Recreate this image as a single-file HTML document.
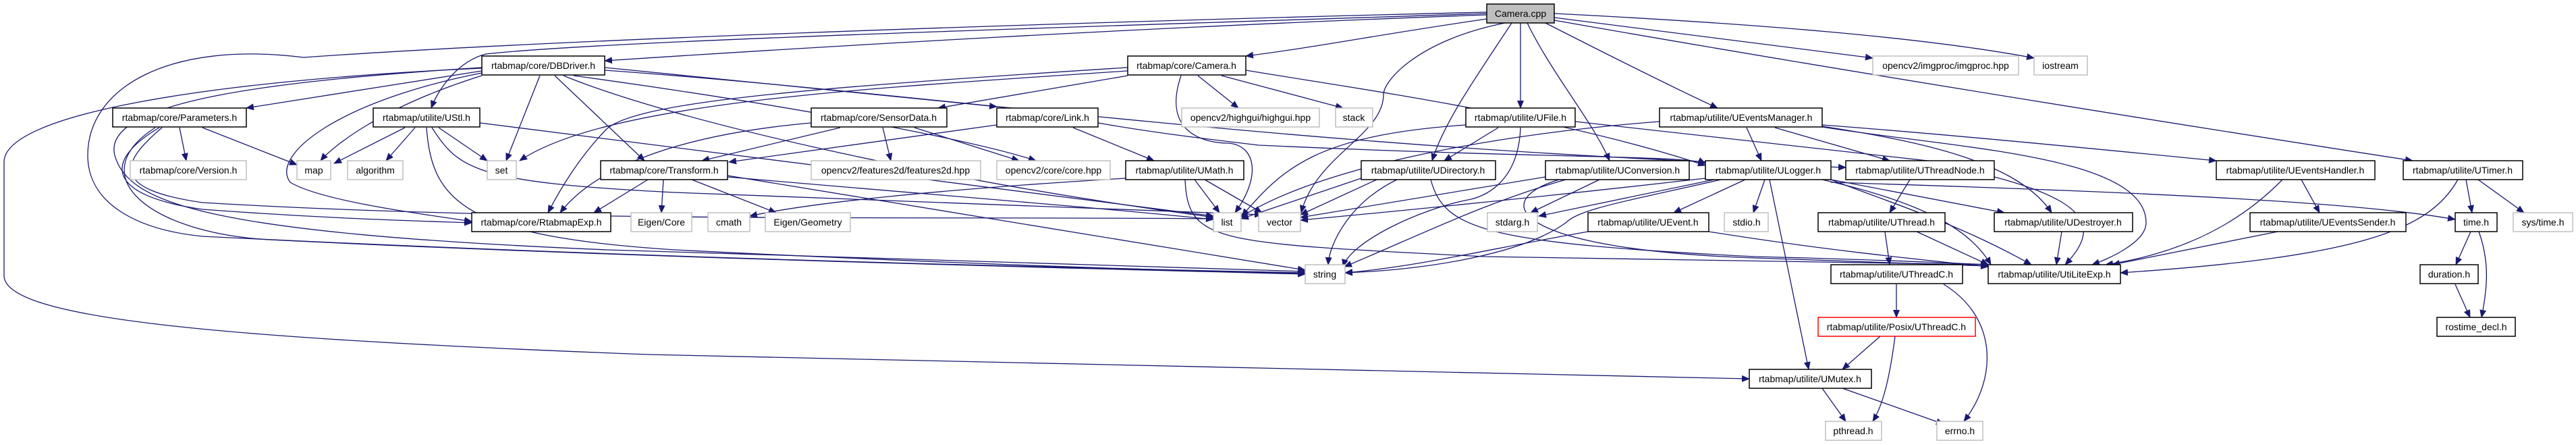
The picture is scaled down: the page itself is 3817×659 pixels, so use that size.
<!DOCTYPE html>
<html><head><meta charset="utf-8"><style>
html,body{margin:0;padding:0;background:#fff;width:3817px;height:659px;overflow:hidden}
svg{display:block}
text{font-family:"Liberation Sans",sans-serif;font-size:14px;fill:#000}
.e{fill:none;stroke:#191970;stroke-width:1.3;marker-end:url(#a)}
.n rect{fill:#fff;stroke:#000;stroke-width:1.5}
.g rect{fill:#fff;stroke:#bfbfbf;stroke-width:1.5}
</style></head><body>
<svg width="3817" height="659" viewBox="0 0 3817 659" xmlns="http://www.w3.org/2000/svg">
<defs><marker id="a" markerUnits="userSpaceOnUse" markerWidth="12" markerHeight="10" refX="11" refY="5" orient="auto"><path d="M0,0 L12,5 L0,10 z" fill="#191970"/></marker></defs>
<g>
<!-- Camera.cpp edges -->
<path class="e" d="M2203,22 C1700,40 1200,70 896,90"/>
<path class="e" d="M2203,28 C2050,50 1950,70 1846,83"/>
<path class="e" d="M2203,20 C1600,40 900,60 720,80 C680,90 650,130 639,160"/>
<path class="e" d="M2203,18 C1500,35 800,60 450,85 C250,60 130,130 130,230 C130,300 200,340 300,350 C900,380 1500,395 1934,404"/>
<path class="e" d="M2240,34 C2190,110 2140,180 2122,238"/>
<path class="e" d="M2253,34 L2253,160"/>
<path class="e" d="M2263,34 C2300,110 2360,180 2385,238"/>
<path class="e" d="M2290,34 C2400,90 2480,130 2545,160"/>
<path class="e" d="M2303,26 C2500,50 2650,70 2775,86"/>
<path class="e" d="M2303,20 C2600,35 2850,55 3014,86"/>
<path class="e" d="M2303,30 C2700,100 3200,180 3575,238"/>
<path class="e" d="M2230,34 C2100,60 2050,120 2050,140 C2050,200 1950,230 1928,315"/>
<!-- DBDriver -->
<path class="e" d="M714,101 C300,120 6,170 6,240 L6,408 C6,470 300,500 960,525 L2592,561"/>
<path class="e" d="M714,105 L365,160"/>
<path class="e" d="M714,112 C560,160 490,220 475,238"/>
<path class="e" d="M800,112 L750,238"/>
<path class="e" d="M822,112 L955,238"/>
<path class="e" d="M714,108 C500,150 400,230 430,270 C480,300 650,320 699,328"/>
<path class="e" d="M714,100 C400,120 150,150 170,230 C190,300 300,345 900,370 L1934,402"/>
<path class="e" d="M835,112 C1000,180 1400,270 1800,322"/>
<path class="e" d="M850,112 C1200,160 1450,210 1535,238"/>
<path class="e" d="M896,100 C1100,120 1300,140 1477,158"/>
<path class="e" d="M896,104 C1400,140 1900,220 2735,248"/>
<!-- Parameters -->
<path class="e" d="M266,189 L276,238"/>
<path class="e" d="M300,189 L440,244"/>
<path class="e" d="M236,189 C150,240 160,290 300,310 C500,325 650,328 699,330"/>
<path class="e" d="M230,189 C120,260 220,345 400,355 C900,380 1500,395 1934,406"/>
<path class="e" d="M240,189 C180,240 160,280 300,300 C800,330 1400,320 1798,324"/>
<!-- UStl -->
<path class="e" d="M600,189 L495,242"/>
<path class="e" d="M615,189 L572,238"/>
<path class="e" d="M650,189 L722,238"/>
<path class="e" d="M711,182 C1000,220 1500,280 1798,320"/>
<path class="e" d="M632,189 C640,300 690,350 1000,370 C1400,390 1700,400 1934,405"/>
<path class="e" d="M640,189 C680,250 700,270 1000,285 C1400,300 1700,310 1870,318"/>
<!-- SensorData -->
<path class="e" d="M1245,189 L1040,238"/>
<path class="e" d="M1308,189 L1320,238"/>
<path class="e" d="M1355,189 L1510,238"/>
<path class="e" d="M1202,182 C1000,200 880,250 830,315"/>
<!-- Link -->
<path class="e" d="M1477,185 L1080,240"/>
<path class="e" d="M1590,189 L1710,238"/>
<path class="e" d="M1627,182 C1700,195 1780,205 1865,215 C2300,235 2500,230 2527,242"/>
<!-- Camera.h -->
<path class="e" d="M1671,112 L1390,160"/>
<path class="e" d="M1775,112 L1835,160"/>
<path class="e" d="M1810,112 L1990,160"/>
<path class="e" d="M1750,112 C1720,200 1790,212 1820,212 C1860,215 1870,260 1830,315"/>
<path class="e" d="M1671,100 C1200,130 950,150 900,190 C860,230 830,280 812,315"/>
<path class="e" d="M1671,105 C1300,130 900,150 770,238"/>
<path class="e" d="M1846,104 C2000,130 2300,170 2527,245"/>
<!-- Transform -->
<path class="e" d="M960,266 L880,315"/>
<path class="e" d="M983,266 L980,315"/>
<path class="e" d="M1025,266 L1150,315"/>
<path class="e" d="M1078,262 C1400,290 1600,305 1798,325"/>
<path class="e" d="M1078,260 C1500,330 1800,380 1934,400"/>
<!-- UMath -->
<path class="e" d="M1770,266 L1807,315"/>
<path class="e" d="M1785,266 L1870,315"/>
<path class="e" d="M1668,264 C1400,280 1200,300 1111,320"/>
<path class="e" d="M1756,266 C1760,360 1800,360 2200,380 C2600,385 2800,390 2946,392"/>
<!-- UFile -->
<path class="e" d="M2220,189 L2140,238"/>
<path class="e" d="M2253,189 C2250,270 2200,290 2180,295 C2100,310 2000,360 1990,395"/>
<path class="e" d="M2334,180 C2600,210 2800,230 2946,248"/>
<path class="e" d="M2172,185 C1950,200 1900,250 1840,320"/>
<!-- UEventsManager -->
<path class="e" d="M2588,189 L2610,238"/>
<path class="e" d="M2630,189 L2800,238"/>
<path class="e" d="M2700,185 C2900,200 3150,225 3284,238"/>
<path class="e" d="M2700,187 C2850,210 2990,240 3040,315"/>
<path class="e" d="M2700,188 C2900,220 3180,230 3180,330 C3180,360 3120,385 3100,392"/>
<path class="e" d="M2459,180 C2200,200 1950,250 1838,322"/>
<!-- UDirectory -->
<path class="e" d="M2070,266 C2000,300 1970,360 1968,392"/>
<path class="e" d="M2040,266 L1927,318"/>
<path class="e" d="M2017,264 L1839,324"/>
<path class="e" d="M2120,266 C2140,340 2200,360 2600,380 C2800,385 2900,390 2946,392"/>
<!-- UConversion -->
<path class="e" d="M2370,266 L2268,315"/>
<path class="e" d="M2320,266 C2200,300 2100,350 1992,395"/>
<path class="e" d="M2290,262 L1927,322"/>
<path class="e" d="M2310,266 C2200,300 2250,370 2600,382 C2800,388 2900,392 2946,394"/>
<!-- ULogger -->
<path class="e" d="M2586,266 L2480,315"/>
<path class="e" d="M2615,266 L2598,315"/>
<path class="e" d="M2622,266 L2680,547"/>
<path class="e" d="M2540,266 L2280,320"/>
<path class="e" d="M2550,266 C2400,300 2340,310 2320,330 C2250,380 2100,400 1993,404"/>
<path class="e" d="M2527,264 C2300,290 2100,310 1927,326"/>
<path class="e" d="M2713,266 L2970,315"/>
<path class="e" d="M2713,266 C2800,300 2900,330 3010,392"/>
<path class="e" d="M2713,270 C3200,285 3500,300 3638,325"/>
<path class="e" d="M2700,266 C2850,300 2920,340 2950,392"/>
<!-- UThreadNode -->
<path class="e" d="M2830,266 L2800,315"/>
<path class="e" d="M2955,262 C3100,300 3110,340 3060,392"/>
<!-- UEvent -->
<path class="e" d="M2353,343 C2200,370 2100,395 1993,404"/>
<path class="e" d="M2532,343 C2700,370 2850,385 2946,395"/>
<!-- UThread -->
<path class="e" d="M2793,343 L2800,392"/>
<path class="e" d="M2840,343 L2946,392"/>
<!-- UThreadC / Posix / UMutex -->
<path class="e" d="M2810,421 L2810,470"/>
<path class="e" d="M2880,421 C2960,470 2960,560 2910,624"/>
<path class="e" d="M2786,498 L2730,547"/>
<path class="e" d="M2808,498 C2800,560 2790,600 2775,624"/>
<path class="e" d="M2700,575 L2735,624"/>
<path class="e" d="M2730,575 L2880,628"/>
<!-- right side -->
<path class="e" d="M3410,266 L3437,315"/>
<path class="e" d="M3382,266 C3300,350 3200,380 3120,392"/>
<path class="e" d="M3375,343 L3130,392"/>
<path class="e" d="M3055,343 L3047,392"/>
<path class="e" d="M3654,266 L3663,315"/>
<path class="e" d="M3672,266 L3740,315"/>
<path class="e" d="M3642,266 C3600,340 3500,380 3142,404"/>
<path class="e" d="M3661,343 L3639,392"/>
<path class="e" d="M3673,343 C3690,390 3685,430 3677,470"/>
<path class="e" d="M3638,421 L3660,470"/>
</g>
<!-- nodes -->
<g>
<g><rect x="2203" y="6" width="100" height="28" fill="#bfbfbf" stroke="#000" stroke-width="1.5"/><text x="2253" y="25" text-anchor="middle">Camera.cpp</text></g>

<g class="g"><rect x="2775" y="83" width="216" height="28"/><text x="2883" y="102" text-anchor="middle">opencv2/imgproc/imgproc.hpp</text></g>
<g class="g"><rect x="3014" y="83" width="79" height="28"/><text x="3053" y="102" text-anchor="middle">iostream</text></g>
<g class="n"><rect x="714" y="83" width="182" height="28"/><text x="805" y="102" text-anchor="middle">rtabmap/core/DBDriver.h</text></g>
<g class="n"><rect x="1671" y="83" width="175" height="28"/><text x="1758" y="102" text-anchor="middle">rtabmap/core/Camera.h</text></g>

<g class="n"><rect x="167" y="160" width="198" height="28"/><text x="266" y="179" text-anchor="middle">rtabmap/core/Parameters.h</text></g>
<g class="n"><rect x="553" y="160" width="158" height="28"/><text x="632" y="179" text-anchor="middle">rtabmap/utilite/UStl.h</text></g>
<g class="n"><rect x="1202" y="160" width="201" height="28"/><text x="1302" y="179" text-anchor="middle">rtabmap/core/SensorData.h</text></g>
<g class="n"><rect x="1477" y="160" width="150" height="28"/><text x="1552" y="179" text-anchor="middle">rtabmap/core/Link.h</text></g>
<g class="g"><rect x="1751" y="160" width="204" height="28"/><text x="1853" y="179" text-anchor="middle">opencv2/highgui/highgui.hpp</text></g>
<g class="g"><rect x="1979" y="160" width="55" height="28"/><text x="2006" y="179" text-anchor="middle">stack</text></g>
<g class="n"><rect x="2172" y="160" width="162" height="28"/><text x="2253" y="179" text-anchor="middle">rtabmap/utilite/UFile.h</text></g>
<g class="n"><rect x="2459" y="160" width="241" height="28"/><text x="2580" y="179" text-anchor="middle">rtabmap/utilite/UEventsManager.h</text></g>

<g class="g"><rect x="193" y="238" width="172" height="28"/><text x="279" y="257" text-anchor="middle">rtabmap/core/Version.h</text></g>
<g class="g"><rect x="440" y="238" width="50" height="28"/><text x="465" y="257" text-anchor="middle">map</text></g>
<g class="g"><rect x="515" y="238" width="82" height="28"/><text x="556" y="257" text-anchor="middle">algorithm</text></g>
<g class="g"><rect x="722" y="238" width="43" height="28"/><text x="743" y="257" text-anchor="middle">set</text></g>
<g class="n"><rect x="890" y="238" width="188" height="28"/><text x="984" y="257" text-anchor="middle">rtabmap/core/Transform.h</text></g>
<g class="g"><rect x="1202" y="238" width="251" height="28"/><text x="1327" y="257" text-anchor="middle">opencv2/features2d/features2d.hpp</text></g>
<g class="g"><rect x="1477" y="238" width="168" height="28"/><text x="1561" y="257" text-anchor="middle">opencv2/core/core.hpp</text></g>
<g class="n"><rect x="1668" y="238" width="175" height="28"/><text x="1755" y="257" text-anchor="middle">rtabmap/utilite/UMath.h</text></g>
<g class="n"><rect x="2017" y="238" width="199" height="28"/><text x="2116" y="257" text-anchor="middle">rtabmap/utilite/UDirectory.h</text></g>
<g class="n"><rect x="2290" y="238" width="213" height="28"/><text x="2397" y="257" text-anchor="middle">rtabmap/utilite/UConversion.h</text></g>
<g class="n"><rect x="2527" y="238" width="186" height="28"/><text x="2620" y="257" text-anchor="middle">rtabmap/utilite/ULogger.h</text></g>
<g class="n"><rect x="2735" y="238" width="220" height="28"/><text x="2845" y="257" text-anchor="middle">rtabmap/utilite/UThreadNode.h</text></g>
<g class="n"><rect x="3284" y="238" width="235" height="28"/><text x="3401" y="257" text-anchor="middle">rtabmap/utilite/UEventsHandler.h</text></g>
<g class="n"><rect x="3561" y="238" width="177" height="28"/><text x="3649" y="257" text-anchor="middle">rtabmap/utilite/UTimer.h</text></g>

<g class="n"><rect x="699" y="315" width="206" height="28"/><text x="802" y="334" text-anchor="middle">rtabmap/core/RtabmapExp.h</text></g>
<g class="g"><rect x="935" y="315" width="90" height="28"/><text x="980" y="334" text-anchor="middle">Eigen/Core</text></g>
<g class="g"><rect x="1049" y="315" width="62" height="28"/><text x="1080" y="334" text-anchor="middle">cmath</text></g>
<g class="g"><rect x="1134" y="315" width="126" height="28"/><text x="1197" y="334" text-anchor="middle">Eigen/Geometry</text></g>
<g class="g"><rect x="1798" y="315" width="41" height="28"/><text x="1818" y="334" text-anchor="middle">list</text></g>
<g class="g"><rect x="1865" y="315" width="62" height="28"/><text x="1896" y="334" text-anchor="middle">vector</text></g>
<g class="g"><rect x="2204" y="315" width="74" height="28"/><text x="2241" y="334" text-anchor="middle">stdarg.h</text></g>
<g class="n"><rect x="2353" y="315" width="179" height="28"/><text x="2442" y="334" text-anchor="middle">rtabmap/utilite/UEvent.h</text></g>
<g class="g"><rect x="2555" y="315" width="65" height="28"/><text x="2588" y="334" text-anchor="middle">stdio.h</text></g>
<g class="n"><rect x="2694" y="315" width="188" height="28"/><text x="2788" y="334" text-anchor="middle">rtabmap/utilite/UThread.h</text></g>
<g class="n"><rect x="2955" y="315" width="205" height="28"/><text x="3057" y="334" text-anchor="middle">rtabmap/utilite/UDestroyer.h</text></g>
<g class="n"><rect x="3334" y="315" width="231" height="28"/><text x="3449" y="334" text-anchor="middle">rtabmap/utilite/UEventsSender.h</text></g>
<g class="n"><rect x="3638" y="315" width="62" height="28"/><text x="3669" y="334" text-anchor="middle">time.h</text></g>
<g class="g"><rect x="3724" y="315" width="88" height="28"/><text x="3768" y="334" text-anchor="middle">sys/time.h</text></g>

<g class="g"><rect x="1934" y="392" width="59" height="28"/><text x="1963" y="411" text-anchor="middle">string</text></g>
<g class="n"><rect x="2713" y="392" width="195" height="28"/><text x="2810" y="411" text-anchor="middle">rtabmap/utilite/UThreadC.h</text></g>
<g class="n"><rect x="2946" y="392" width="196" height="28"/><text x="3044" y="411" text-anchor="middle">rtabmap/utilite/UtiLiteExp.h</text></g>
<g class="n"><rect x="3586" y="392" width="86" height="28"/><text x="3629" y="411" text-anchor="middle">duration.h</text></g>

<g><rect x="2694" y="470" width="233" height="28" fill="#fff" stroke="#ff0000" stroke-width="1.5"/><text x="2810" y="489" text-anchor="middle">rtabmap/utilite/Posix/UThreadC.h</text></g>
<g class="n"><rect x="3611" y="470" width="116" height="28"/><text x="3669" y="489" text-anchor="middle">rostime_decl.h</text></g>

<g class="n"><rect x="2592" y="547" width="181" height="28"/><text x="2682" y="566" text-anchor="middle">rtabmap/utilite/UMutex.h</text></g>

<g class="g"><rect x="2705" y="624" width="83" height="28"/><text x="2746" y="643" text-anchor="middle">pthread.h</text></g>
<g class="g"><rect x="2870" y="624" width="68" height="28"/><text x="2904" y="643" text-anchor="middle">errno.h</text></g>
</g>
</svg>
</body></html>
